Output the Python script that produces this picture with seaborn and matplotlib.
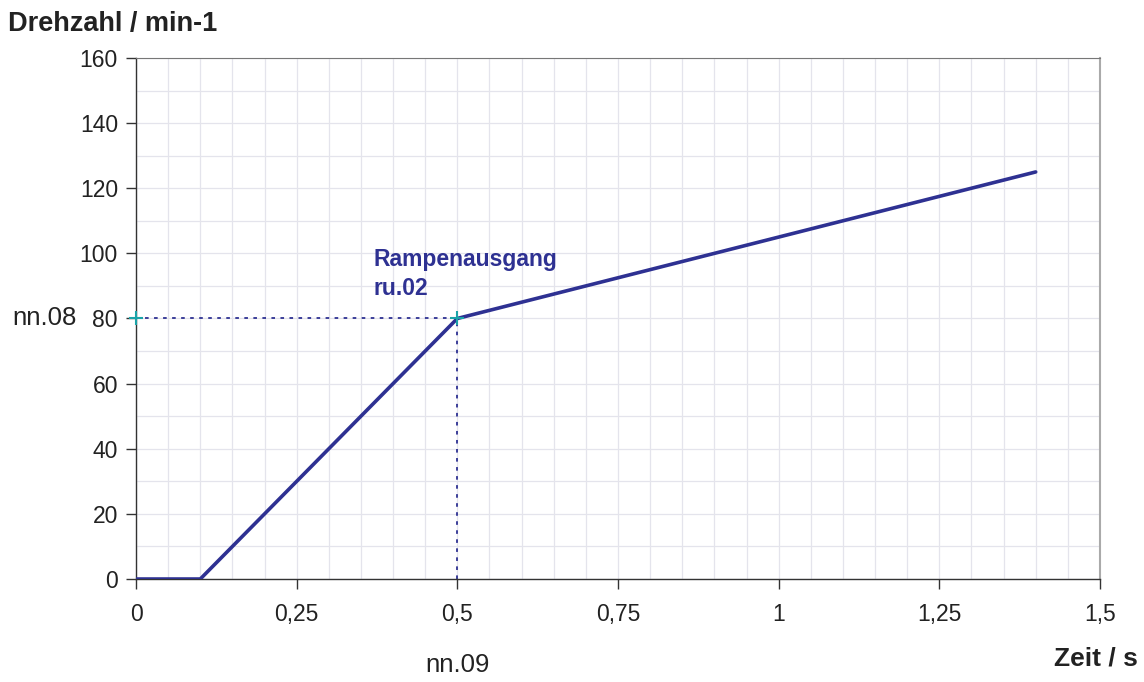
import numpy as np
import pandas as pd
import seaborn as sns
import matplotlib.pyplot as plt
from matplotlib.ticker import FuncFormatter, MultipleLocator

# Werte
zeit = [0, 0.1, 0.2, 0.3, 0.4, 0.5, 0.6, 0.7, 0.8, 0.9, 1.0, 1.1, 1.2, 1.3, 1.4]
drehzahl = [0, 0, 20, 40, 60, 80, 85, 90, 95, 100, 105, 110, 115, 120, 125]
nn08 = 80
nn09 = 0.5
x_ticks = [0, 0.25, 0.5, 0.75, 1, 1.25, 1.5]
y_ticks = [0, 20, 40, 60, 80, 100, 120, 140, 160]

df = pd.DataFrame({"Zeit": zeit, "Drehzahl": drehzahl})

sns.set_style("white")
plt.rcParams['font.family'] = ['Liberation Sans', 'DejaVu Sans']

navy = "#2e3192"

fig = plt.figure(figsize=(11.44, 6.82), dpi=100)
ax = fig.add_axes([0.1189, 0.151, 0.8426, 0.764])

sns.lineplot(data=df, x="Zeit", y="Drehzahl", color=navy, linewidth=2.6, ax=ax, zorder=3)

# gestrichelte Hilfslinien
ax.plot([0, nn09], [nn08, nn08], color=navy, linestyle=(0, (2, 3)), linewidth=1.3, zorder=2)
ax.plot([nn09, nn09], [0, nn08], color=navy, linestyle=(0, (2, 3)), linewidth=1.3, zorder=2)
ax.plot([0, nn09], [nn08, nn08], linestyle='none', marker='+', color="#1aa3a8",
        markersize=10, markeredgewidth=1.5, zorder=4, clip_on=False)

ax.set_xlim(0, 1.5)
ax.set_ylim(0, 160)
ax.set_xticks(x_ticks)
ax.set_yticks(y_ticks)
ax.xaxis.set_minor_locator(MultipleLocator(0.05))
ax.yaxis.set_minor_locator(MultipleLocator(10))
ax.xaxis.set_major_formatter(FuncFormatter(lambda v, p: ('%g' % v).replace('.', ',')))

ax.grid(True, which='both', color='#e4e4ec', linewidth=0.9)
ax.set_axisbelow(True)

for s in ['left', 'bottom']:
    ax.spines[s].set_color('#333333')
    ax.spines[s].set_linewidth(1.0)
ax.spines['top'].set_color('#777777')
ax.spines['right'].set_color('#aaaaaa')
ax.spines['right'].set_linewidth(1.5)

ax.tick_params(axis='both', which='major', bottom=True, left=True, direction='out',
               length=7, width=1, color='#333333', labelsize=16.5, labelcolor='#222222')
ax.tick_params(axis='x', which='major', pad=10)
ax.tick_params(axis='y', which='major', pad=6)
ax.tick_params(which='minor', length=0)

ax.set_xlabel("")
ax.set_ylabel("")

fig.text(0.007, 0.965, "Drehzahl / min-1", fontsize=19.5, fontweight='bold',
         color='#222222', ha='left', va='center')
fig.text(0.995, 0.035, "Zeit / s", fontsize=19, fontweight='bold',
         color='#222222', ha='right', va='center')
fig.text(0.0385, 0.534, "nn.08", fontsize=18.5, color='#222222', ha='center', va='center')
fig.text(0.4, 0.025, "nn.09", fontsize=18.5, color='#222222', ha='center', va='center')

ax.text(0.37, 93.7, "Rampenausgang\nru.02", fontsize=16.5, fontweight='bold', color=navy,
        ha='left', va='center', linespacing=1.3)

fig.savefig("out.png", dpi=100)
